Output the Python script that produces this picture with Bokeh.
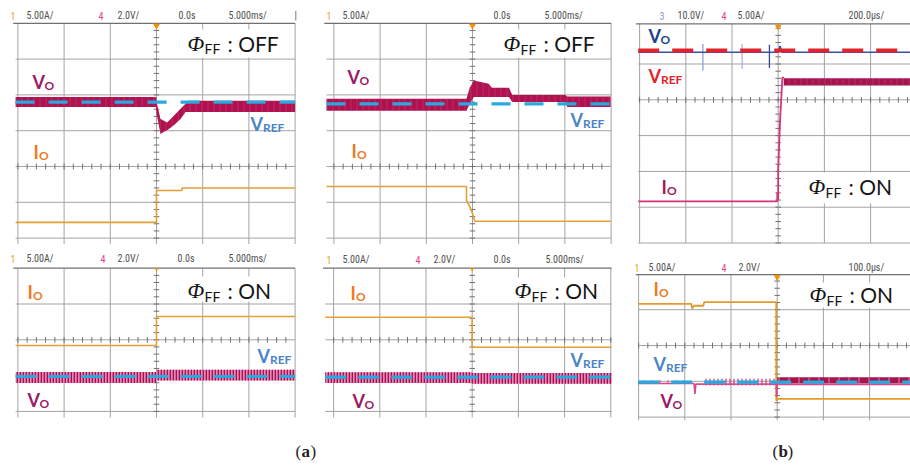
import numpy as np
from bokeh.plotting import figure
from bokeh.models import Range1d
from bokeh.layouts import column, row
from bokeh.core.properties import value
from bokeh.embed import file_html
from bokeh.resources import INLINE

# ---------------- data (oscilloscope divisions: x = div from trigger, y = div from screen centre)
# (a) top-left : load step up, feed-forward OFF
p1_io_x = [-3.05, 0.0, 0.0, 0.55, 0.55, 3.0]
p1_io_y = [-1.56, -1.56, -0.67, -0.67, -0.60, -0.60]
p1_vo_x = [-3.05, -0.01, 0.01, 0.087, 0.16, 0.23, 0.375, 0.52, 0.63, 0.70, 3.0]
p1_vo_hi = [1.94, 1.94, 1.75, 1.33, 1.28, 1.23, 1.42, 1.61, 1.75, 1.84, 1.84]
p1_vo_lo = [1.66, 1.66, 1.42, 0.91, 0.97, 1.01, 1.15, 1.33, 1.52, 1.52, 1.52]
p1_vref_x = [-3.05, 3.0]
p1_vref_y = [1.80, 1.80]

# (a) top-middle : load step down, feed-forward OFF
p2_io_x = [-3.16, -0.13, -0.13, -0.065, -0.01, 0.05, 2.99]
p2_io_y = [-0.56, -0.56, -0.95, -1.10, -1.28, -1.53, -1.53]
p2_vo_x = [-3.16, -0.13, -0.06, 0.03, 0.35, 0.42, 0.79, 0.86, 2.01, 2.05, 2.99]
p2_vo_hi = [1.89, 1.89, 2.20, 2.40, 2.31, 2.20, 2.20, 2.00, 2.00, 1.955, 1.955]
p2_vo_lo = [1.56, 1.56, 1.75, 1.94, 1.94, 1.94, 1.94, 1.80, 1.80, 1.66, 1.66]
p2_vref_x = [-3.16, 2.99]
p2_vref_y = [1.75, 1.75]

# (b) top : feed-forward ON
p3_vref_x = [-3.03, 2.86]
p3_vref_y = [1.38, 1.38]
p3_vo_x = [-3.03, 0.0, 0.04, 0.08, 2.86]
p3_vo_y = [1.33, 1.33, 1.50, 1.33, 1.33]
p3_spike_x = [-1.63, -0.78, -0.19]
p3_spike_lo = [0.82, 0.86, 0.89]
p3_spike_hi = [1.56, 1.56, 1.54]
p3_io_x = [-3.03, -0.02, -0.02, 0.0, 0.0, 0.04, 0.09, 0.13]
p3_io_y = [-2.84, -2.84, -2.58, -2.80, -1.97, -0.60, 0.62, 0.62]
p3_band_x = [0.12, 2.86]
p3_band_hi = [0.60, 0.60]
p3_band_lo = [0.40, 0.40]

# (a) bottom-left : load step up, feed-forward ON
p4_io_x = [-3.05, 0.0, 0.0, 3.0]
p4_io_y = [-0.16, -0.16, 0.65, 0.65]
p4_vo_x = [-3.05, 0.0, 0.0, 3.0]
p4_vo_hi = [-0.90, -0.90, -0.84, -0.84]
p4_vo_lo = [-1.21, -1.21, -1.14, -1.14]
p4_vref_x = [-3.05, 3.0]
p4_vref_y = [-1.025, -1.025]

# (a) bottom-middle : load step down, feed-forward ON
p5_io_x = [-3.18, 0.0, 0.0, 3.02]
p5_io_y = [0.63, 0.63, -0.21, -0.21]
p5_vo_x = [-3.18, 0.0, 0.0, 3.02]
p5_vo_hi = [-0.905, -0.905, -0.93, -0.93]
p5_vo_lo = [-1.21, -1.21, -1.23, -1.23]
p5_vref_x = [-3.18, 3.02]
p5_vref_y = [-1.04, -1.04]

# (b) bottom : feed-forward ON
p6_io_x = [-3.01, -1.86, -1.84, -1.80, -1.60, -1.58, -0.02, -0.02, 0.02, 2.89]
p6_io_y = [1.165, 1.165, 1.03, 1.11, 1.11, 1.21, 1.21, -1.54, -1.49, -1.49]
p6_vo_x = [-3.01, -1.80, -1.78, -1.76, -0.02, -0.01, 0.0, 2.89]
p6_vo_y = [-1.06, -1.06, -1.35, -1.08, -1.08, -1.44, -1.09, -1.09]
p6_rip1_x = [-3.01, -1.85]
p6_rip1_hi = [-0.97, -0.97]
p6_rip1_lo = [-1.06, -1.06]
p6_rip2_x = [-1.60, -0.02]
p6_rip2_hi = [-0.93, -0.93]
p6_rip2_lo = [-1.12, -1.12]
p6_band_x = [0.0, 2.89]
p6_band_hi = [-0.885, -0.885]
p6_band_lo = [-1.06, -1.06]
p6_vref_x = [-3.01, 2.89]
p6_vref_y = [-1.025, -1.025]

# ---------------- styling
DX, DY = 46.2, 35.8
GRID = "#a3a3a3"
HEAD = "#707070"
CRIMSON = "#b0124f"
GOLD = "#e3a035"
SKY = "#2aa8e0"
L_VO = "#9c1a66"
L_IO = "#ec7a1e"
L_VREF = "#4a85c8"
NARROW = "Liberation Sans Narrow, Roboto Condensed, Liberation Sans"
HDR = "#505050"
ORANGE1 = "#f0a030"
PINK4 = "#e0408a"

# page boxes of the six scope shots (figures tile the page)
PANELS = {
    1: dict(cx=156.0, cy=166.0, box=(0, 0, 311, 244)),
    2: dict(cx=472.0, cy=166.0, box=(311, 0, 623, 244)),
    3: dict(cx=777.7, cy=99.3, box=(623, 0, 910, 244)),
    4: dict(cx=156.0, cy=339.3, box=(0, 244, 311, 422)),
    5: dict(cx=471.7, cy=339.3, box=(311, 244, 623, 422)),
    6: dict(cx=776.7, cy=345.0, box=(623, 244, 910, 422)),
}


def make_fig(P):
    x0, y0, x1, y1 = P["box"]
    p = figure(width=x1 - x0, height=y1 - y0,
               x_range=Range1d((x0 - P["cx"]) / DX, (x1 - P["cx"]) / DX),
               y_range=Range1d((P["cy"] - y1) / DY, (P["cy"] - y0) / DY),
               output_backend="svg", toolbar_location=None, tools="",
               x_axis_location=None, y_axis_location=None, min_border=0,
               outline_line_color=None, background_fill_color="white",
               border_fill_color="white")
    p.grid.visible = False
    return p


def grid(p, P, xl, xr, top, yb, vlines, hlines):
    n = len(vlines)
    p.segment(x0=vlines, y0=[yb] * n, x1=vlines, y1=[top] * n, line_color=GRID, line_width=1)
    m = len(hlines)
    p.segment(x0=[xl] * m, y0=hlines, x1=[xr] * m, y1=hlines, line_color=GRID, line_width=1)
    p.segment(x0=[xl - 0.05], y0=[top], x1=[xr], y1=[top], line_color=HEAD, line_width=1.3)
    ty = np.arange(np.ceil(yb / 0.2) * 0.2, top, 0.2)
    p.segment(x0=-0.06, y0=ty, x1=0.06, y1=ty, line_color=HEAD, line_width=1)
    tx = np.arange(np.ceil(xl / 0.2) * 0.2, xr, 0.2)
    p.segment(x0=tx, y0=-0.08, x1=tx, y1=0.08, line_color=HEAD, line_width=1)


def T(p, P, px, py, s, color, size, font="Lato", style="normal"):
    p.text(x=[(px - P["cx"]) / DX], y=[(P["cy"] - py) / DY], text=[s], text_color=color,
           text_font=value(font), text_font_size=f"{size}px", text_font_style=style,
           text_align="left", text_baseline="middle")


def sub_label(p, P, px, py, main, sub, color, dxs):
    T(p, P, px, py, main, color, 18, style="bold")
    T(p, P, px + dxs, py + 3.5, sub, color, 12, style="bold")


def phi_label(p, P, px, py, state, box):
    bx0, by0, bx1, by1 = box
    p.quad(left=[(bx0 - P["cx"]) / DX], right=[(bx1 - P["cx"]) / DX],
           top=[(P["cy"] - by0) / DY], bottom=[(P["cy"] - by1) / DY],
           fill_color="white", line_color=None)
    T(p, P, px, py, "Φ", "#151515", 22, font="Liberation Serif", style="italic")
    T(p, P, px + 17, py + 5.5, "FF", "#151515", 14)
    T(p, P, px + 40, py, ": " + state, "#151515", 21)


def header(p, P, py, items):
    for px, s, c in items:
        T(p, P, px, py, s, c, 10, font=NARROW)


def trig(p, y, size=7):
    p.scatter(x=[0], y=[y], marker="inverted_triangle", size=size, color="#f0900c", line_color=None)


def band_solid(p, x, lo, hi, color=CRIMSON):
    p.varea(x=x, y1=lo, y2=hi, fill_color=color,
            hatch_pattern="|", hatch_color="#d9649a", hatch_scale=6, hatch_weight=1, hatch_alpha=0.3)


def band_ripple(p, x, lo, hi):
    p.varea(x=x, y1=lo, y2=hi, fill_color="#e58ab8",
            hatch_pattern="|", hatch_color="#a8104f", hatch_scale=3, hatch_weight=1.7)


# ---------------- panel 1
P = PANELS[1]
p1 = make_fig(P)
grid(p1, P, -3.05, 3.0, 4.0, -2.18, list(range(-3, 4)), [3, 2, 1, 0, -1, -2])
p1.line(p1_io_x, p1_io_y, line_color=GOLD, line_width=1.6)
band_solid(p1, p1_vo_x, p1_vo_lo, p1_vo_hi)
p1.line(p1_vref_x, p1_vref_y, line_color=SKY, line_width=3.2, line_dash="19 14")
trig(p1, 3.93)
header(p1, P, 15, [(10, "1", ORANGE1), (26, "5.00A/", HDR), (98, "4", PINK4), (117, "2.0V/", HDR),
                   (178, "0.0s", HDR), (228, "5.000ms/", HDR), (294, "|", HDR)])
sub_label(p1, P, 32, 81.5, "V", "O", L_VO, 12)
sub_label(p1, P, 33, 151, "I", "O", L_IO, 5.5)
sub_label(p1, P, 250, 123, "V", "REF", L_VREF, 12.5)
phi_label(p1, P, 187, 42.5, "OFF", (183, 29, 285, 57))

# ---------------- panel 2
P = PANELS[2]
p2 = make_fig(P)
grid(p2, P, -3.16, 3.0, 4.0, -2.18, list(range(-3, 4)), [3, 2, 1, 0, -1, -2])
p2.line(p2_io_x, p2_io_y, line_color=GOLD, line_width=1.6)
band_solid(p2, p2_vo_x, p2_vo_lo, p2_vo_hi)
p2.line(p2_vref_x, p2_vref_y, line_color=SKY, line_width=3.2, line_dash="19 14")
trig(p2, 3.93)
header(p2, P, 15, [(326, "1", ORANGE1), (342, "5.00A/", HDR), (493, "0.0s", HDR), (544, "5.000ms/", HDR)])
sub_label(p2, P, 347, 76, "V", "O", L_VO, 12)
sub_label(p2, P, 351, 150, "I", "O", L_IO, 5.5)
sub_label(p2, P, 570, 119, "V", "REF", L_VREF, 12.5)
phi_label(p2, P, 503, 43, "OFF", (499, 29, 600, 57))

# ---------------- panel 3
P = PANELS[3]
p3 = make_fig(P)
grid(p3, P, -3.03, 2.86, 2.12, -4.0, list(range(-3, 3)), [1, 0, -1, -2, -3, -4])
p3.segment(x0=p3_spike_x, y0=p3_spike_lo, x1=p3_spike_x, y1=p3_spike_hi,
           line_color=["#8f9fd6", "#a9b4e0", "#34489a"], line_width=1.3)
p3.line(p3_vo_x, p3_vo_y, line_color="#3a52a6", line_width=1.6)
p3.line(p3_vref_x, p3_vref_y, line_color="#e3232b", line_width=4, line_dash="21 13")
p3.line(p3_io_x, p3_io_y, line_color="#d3347c", line_width=1.8)
band_solid(p3, p3_band_x, p3_band_lo, p3_band_hi, "#a5154f")
trig(p3, 2.05)
header(p3, P, 15, [(659, "3", "#9090d0"), (677, "10.0V/", HDR), (721, "4", PINK4), (737, "5.00A/", HDR),
                   (848, "200.0µs/", HDR)])
sub_label(p3, P, 648, 35.5, "V", "O", "#213f8c", 12)
sub_label(p3, P, 648, 75, "V", "REF", "#e3232b", 12.5)
sub_label(p3, P, 661, 186.5, "I", "O", "#a2185e", 5.5)
phi_label(p3, P, 808, 186, "ON", (804, 172, 897, 203))

# ---------------- panel 4
P = PANELS[4]
p4 = make_fig(P)
grid(p4, P, -3.05, 3.0, 2.0, -2.17, list(range(-3, 4)), [1, 0, -1, -2])
p4.line(p4_io_x, p4_io_y, line_color=GOLD, line_width=1.6)
band_ripple(p4, p4_vo_x, p4_vo_lo, p4_vo_hi)
p4.line(p4_vref_x, p4_vref_y, line_color=SKY, line_width=3.2, line_dash="21 12")
trig(p4, 1.97, 4)
header(p4, P, 258, [(10, "1", ORANGE1), (26, "5.00A/", HDR), (100, "4", PINK4), (117, "2.0V/", HDR),
                    (177, "0.0s", HDR), (228, "5.000ms/", HDR)])
sub_label(p4, P, 27, 291.5, "I", "O", L_IO, 5.5)
sub_label(p4, P, 257, 355, "V", "REF", L_VREF, 12.5)
sub_label(p4, P, 27, 399.5, "V", "O", L_VO, 12)
phi_label(p4, P, 187, 290, "ON", (183, 276, 275, 301))

# ---------------- panel 5
P = PANELS[5]
p5 = make_fig(P)
grid(p5, P, -3.18, 3.02, 2.0, -2.17, list(range(-3, 4)), [1, 0, -1, -2])
p5.line(p5_io_x, p5_io_y, line_color=GOLD, line_width=1.6)
band_ripple(p5, p5_vo_x, p5_vo_lo, p5_vo_hi)
p5.line(p5_vref_x, p5_vref_y, line_color=SKY, line_width=3.2, line_dash="21 12")
trig(p5, 1.97, 4)
header(p5, P, 259, [(326, "1", ORANGE1), (342, "5.00A/", HDR), (415, "4", PINK4), (433, "2.0V/", HDR),
                    (493, "0.0s", HDR), (545, "5.000ms/", HDR)])
sub_label(p5, P, 350, 292.5, "I", "O", L_IO, 5.5)
sub_label(p5, P, 570, 359, "V", "REF", L_VREF, 12.5)
sub_label(p5, P, 352, 400, "V", "O", L_VO, 12)
phi_label(p5, P, 514, 290, "ON", (510, 277, 605, 302))

# ---------------- panel 6
P = PANELS[6]
p6 = make_fig(P)
grid(p6, P, -3.01, 2.89, 1.98, -2.09, list(range(-3, 3)), [1, 0, -1, -2])
p6.line(p6_io_x, p6_io_y, line_color="#e39a2c", line_width=1.8)
p6.varea(x=p6_rip1_x, y1=p6_rip1_lo, y2=p6_rip1_hi, fill_color=None,
         hatch_pattern="|", hatch_color="#d84a8c", hatch_scale=8, hatch_weight=1.2)
p6.varea(x=p6_rip2_x, y1=p6_rip2_lo, y2=p6_rip2_hi, fill_color=None,
         hatch_pattern="|", hatch_color="#c8307a", hatch_scale=4, hatch_weight=1.2)
p6.line(p6_vo_x, p6_vo_y, line_color="#d84a8c", line_width=1.6)
p6.varea(x=p6_band_x, y1=p6_band_lo, y2=p6_band_hi, fill_color="#a5154f",
         hatch_pattern="|", hatch_color="#e06aa0", hatch_scale=10, hatch_weight=2, hatch_alpha=0.6)
p6.line(p6_vref_x, p6_vref_y, line_color=SKY, line_width=3.2, line_dash="21 12")
trig(p6, 1.91)
header(p6, P, 267, [(634, "1", ORANGE1), (648, "5.00A/", HDR), (721, "4", PINK4), (738, "2.0V/", HDR),
                    (848, "100.0µs/", HDR)])
sub_label(p6, P, 653, 288.5, "I", "O", L_IO, 5.5)
sub_label(p6, P, 653, 363.5, "V", "REF", L_VREF, 12.5)
sub_label(p6, P, 660, 400, "V", "O", L_VO, 12)
phi_label(p6, P, 809, 294, "ON", (805, 282, 898, 307))

# ---------------- caption row
pc = figure(width=910, height=43, x_range=Range1d(0, 910), y_range=Range1d(465, 422),
            output_backend="svg", toolbar_location=None, tools="",
            x_axis_location=None, y_axis_location=None, min_border=0,
            outline_line_color=None, background_fill_color="white", border_fill_color="white")
pc.grid.visible = False
for xs, letter in ((295, "a"), (772, "b")):
    pc.text(x=[xs], y=[451], text=["("], text_font=value("Liberation Serif"), text_font_size="17px",
            text_color="#222222", text_baseline="middle")
    pc.text(x=[xs + 6], y=[451], text=[letter], text_font=value("Liberation Serif"), text_font_size="17px",
            text_font_style="bold", text_color="#222222", text_baseline="middle")
    pc.text(x=[xs + 15], y=[451], text=[")"], text_font=value("Liberation Serif"), text_font_size="17px",
            text_color="#222222", text_baseline="middle")

r1 = row(p1, p2, p3)
r2 = row(p4, p5, p6)
layout = column(r1, r2, pc)

open("out.html", "w").write(file_html(layout, INLINE))
